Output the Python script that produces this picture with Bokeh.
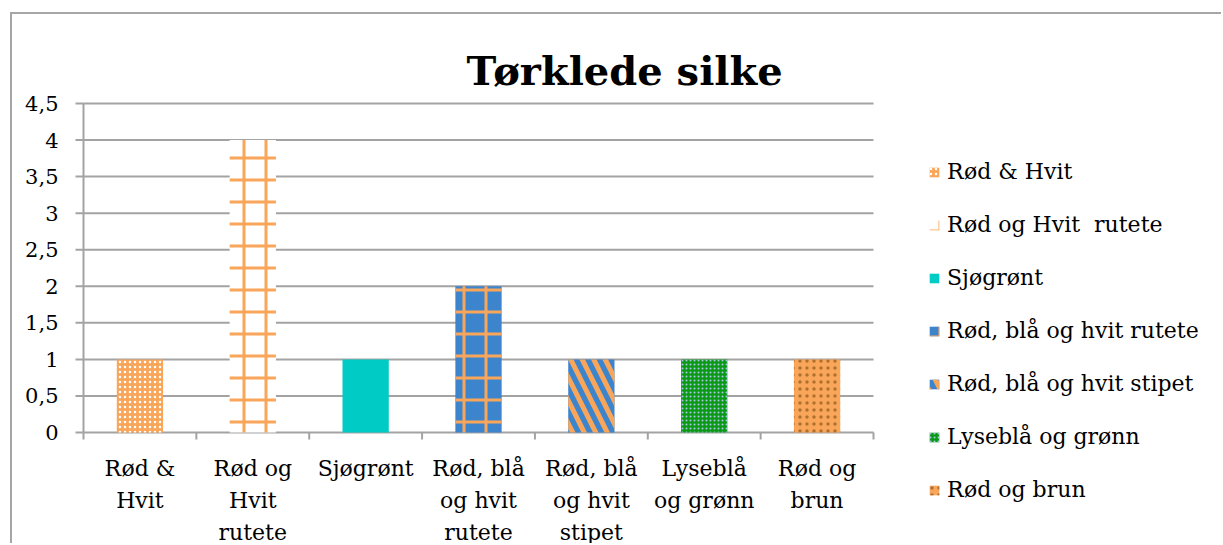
import numpy as np
from bokeh.plotting import figure
from bokeh.models import Range1d, Legend, LegendItem, Label
from bokeh.core.properties import value
from bokeh.embed import file_html
from bokeh.resources import INLINE

# ---- data ----
series_names = ["Rød & Hvit", "Rød og Hvit  rutete", "Sjøgrønt", "Rød, blå og hvit rutete",
                "Rød, blå og hvit stipet", "Lyseblå og grønn", "Rød og brun"]
axis_labels = ["Rød &\nHvit", "Rød og\nHvit\nrutete", "Sjøgrønt", "Rød, blå\nog hvit\nrutete",
               "Rød, blå\nog hvit\nstipet", "Lyseblå\nog grønn", "Rød og\nbrun"]
values = [1, 4, 1, 2, 1, 1, 1]
y_ticks = [0, 0.5, 1, 1.5, 2, 2.5, 3, 3.5, 4, 4.5]
y_tick_labels = ["0", "0,5", "1", "1,5", "2", "2,5", "3", "3,5", "4", "4,5"]
title_text = "Tørklede silke"

# ---- styles ----
ORANGE = "#F9A65A"
BLUE = "#3C84CC"
styles = [
    dict(fill_color=ORANGE, hatch_pattern="dot", hatch_color="white", hatch_scale=5, hatch_weight=1.5),
    dict(fill_color="white", hatch_pattern="cross", hatch_color=ORANGE, hatch_scale=22, hatch_weight=3),
    dict(fill_color="#00CBC4"),
    dict(fill_color=BLUE, hatch_pattern="cross", hatch_color=ORANGE, hatch_scale=22, hatch_weight=3),
    dict(fill_color=BLUE, hatch_pattern="left_diagonal_line", hatch_color=ORANGE, hatch_scale=23, hatch_weight=5),
    dict(fill_color="#0B9A14", hatch_pattern="dot", hatch_color="#A9C6E6", hatch_scale=4, hatch_weight=1.2),
    dict(fill_color=ORANGE, hatch_pattern="dot", hatch_color="#B0702E", hatch_scale=7, hatch_weight=1.6),
]
FONT = "DejaVu Serif"
GRAY = "#a3a3a3"

# ---- layout (pixels) ----
FIG_W, FIG_H = 1211, 531
PLOT_L, PLOT_T, PLOT_W, PLOT_H = 71, 89, 790, 329
n = len(values)
ymax = y_ticks[-1]
ux = n / PLOT_W
uy = ymax / PLOT_H
x_start = -0.5 - PLOT_L * ux
y_end = ymax + PLOT_T * uy

p = figure(width=FIG_W, height=FIG_H,
           x_range=Range1d(x_start, x_start + FIG_W * ux),
           y_range=Range1d(y_end - FIG_H * uy, y_end),
           x_axis_type=None, y_axis_type=None,
           output_backend="svg", toolbar_location=None, min_border=0)
p.title.text = ""
p.title.visible = False
p.outline_line_color = None
p.xgrid.visible = False
p.ygrid.visible = False
p.styles = {"border-left": "2px solid #a6a6a6", "border-top": "2px solid #a6a6a6",
            "margin-left": "10px", "margin-top": "12px"}

# gridlines / axis lines through the data scales
p.segment(x0=-0.5, x1=n - 0.5, y0=y_ticks, y1=y_ticks, line_color=GRAY, line_width=2)
p.segment(x0=-0.5, x1=-0.5, y0=0, y1=ymax, line_color=GRAY, line_width=2)
p.ray(x=-0.5, y=y_ticks, length=8, length_units="screen", angle=np.pi,
      line_color=GRAY, line_width=2)
p.ray(x=[i - 0.5 for i in range(n + 1)], y=0, length=7, length_units="screen",
      angle=-np.pi / 2, line_color=GRAY, line_width=2)

# bars
items = []
for i, (name, v, st) in enumerate(zip(series_names, values, styles)):
    r = p.vbar(x=[i], top=[v], bottom=0, width=0.41, line_color=None, **st)
    items.append(LegendItem(label=name, renderers=[r]))

# tick labels
p.text(x=-0.5, y=y_ticks, text=y_tick_labels, x_offset=-25,
       text_align="right", text_baseline="middle",
       text_font=value(FONT), text_font_size="21px", text_color="black")
p.text(x=list(range(n)), y=0, text=axis_labels, y_offset=23,
       text_align="center", text_baseline="top", text_line_height=1.28,
       text_font=value(FONT), text_font_size="22px", text_color="black")

# title
p.add_layout(Label(x=454, y=FIG_H - 56, x_units="screen", y_units="screen",
                   text=title_text, text_font=FONT, text_font_style="bold",
                   text_font_size="40px", text_color="black",
                   text_align="left", text_baseline="alphabetic"))

# legend
legend = Legend(items=items, location=(916, 43), orientation="vertical", nrows=n,
                padding=0, margin=0, border_line_color=None, background_fill_alpha=0,
                glyph_width=12, glyph_height=12, label_height=22, label_standoff=7,
                spacing=28, label_text_font=FONT, label_text_font_size="22px",
                label_text_color="black")
p.add_layout(legend, "center")

open("out.html", "w").write(file_html(p, INLINE))
